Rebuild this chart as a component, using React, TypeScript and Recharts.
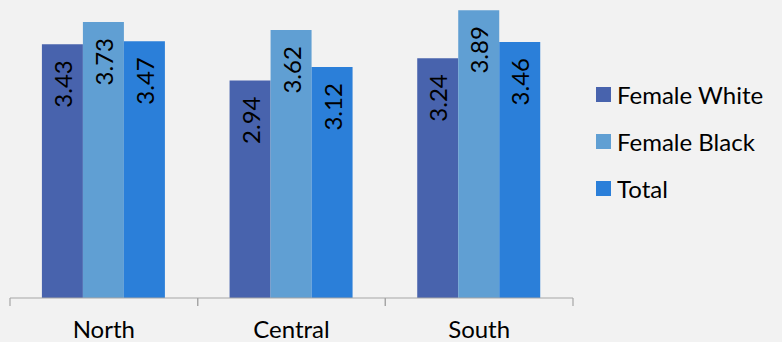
import React from "react";
import { BarChart, Bar, XAxis, YAxis, Legend, LabelList } from "recharts";

const categories = ["North", "Central", "South"];
const femaleWhite = [3.43, 2.94, 3.24];
const femaleBlack = [3.73, 3.62, 3.89];
const total = [3.47, 3.12, 3.46];
const seriesNames = ["Female White", "Female Black", "Total"];
const seriesKeys = ["fw", "fb", "tot"];
const colors = ["#4863ad", "#609fd3", "#2b7fd9"];

const data = categories.map((c, i) => ({
  name: c,
  fw: femaleWhite[i],
  fb: femaleBlack[i],
  tot: total[i],
}));

const W = 782;
const H = 342;
const margin = { top: 2, right: 209, left: 10, bottom: 0 };
const bandWidth = (W - margin.left - margin.right) / categories.length;
const FONT = "Lato, 'Open Sans', sans-serif";

const Tick = (props: any) => {
  const { x, y, payload } = props;
  const axisY = y - 8;
  return (
    <g>
      <line x1={x - bandWidth / 2} x2={x - bandWidth / 2} y1={axisY} y2={axisY + 8} stroke="#a6a6a6" strokeWidth={1.2} />
      <line x1={x + bandWidth / 2} x2={x + bandWidth / 2} y1={axisY} y2={axisY + 8} stroke="#a6a6a6" strokeWidth={1.2} />
      <text x={x} y={axisY + 40} textAnchor="middle" fill="#000" fontSize={24} fontFamily={FONT}>
        {payload.value}
      </text>
    </g>
  );
};

const BarLabel = (props: any) => {
  const { x, y, width, value } = props;
  const cx = x + width / 2;
  const cy = y + 16;
  return (
    <text
      x={cx}
      y={cy}
      transform={`rotate(-90 ${cx} ${cy})`}
      textAnchor="end"
      dominantBaseline="central"
      fontSize={24}
      fontFamily={FONT}
      fill="#000"
    >
      {value.toFixed(2)}
    </text>
  );
};

const LegendContent = () => (
  <div style={{ fontFamily: FONT, fontSize: 24, color: "#000" }}>
    {seriesNames.map((n, i) => (
      <div key={n} style={{ display: "flex", alignItems: "center", height: 47 }}>
        <div style={{ width: 15, height: 15, background: colors[i], marginRight: 6 }} />
        <span style={{ lineHeight: "24px" }}>{n}</span>
      </div>
    ))}
  </div>
);

export default function App() {
  return (
    <div style={{ position: "absolute", left: 0, top: 0, width: W, height: H, background: "#f2f2f2" }}>
      <style>{`body{margin:0}`}</style>
      <BarChart width={W} height={H} data={data} margin={margin} barCategoryGap="17%" barGap={0}>
        <XAxis
          dataKey="name"
          height={44}
          axisLine={{ stroke: "#a6a6a6", strokeWidth: 1.2 }}
          tickLine={false}
          tick={<Tick />}
          tickSize={6}
          tickMargin={2}
          interval={0}
        />
        <YAxis hide domain={[0, 4]} />
        <Legend
          layout="vertical"
          align="center"
          verticalAlign="middle"
          content={<LegendContent />}
          wrapperStyle={{ position: "absolute", left: 596, top: 71, width: 186 }}
        />
        {seriesKeys.map((k, i) => (
          <Bar key={k} dataKey={k} name={seriesNames[i]} fill={colors[i]} isAnimationActive={false}>
            <LabelList dataKey={k} content={<BarLabel />} />
          </Bar>
        ))}
      </BarChart>
    </div>
  );
}
